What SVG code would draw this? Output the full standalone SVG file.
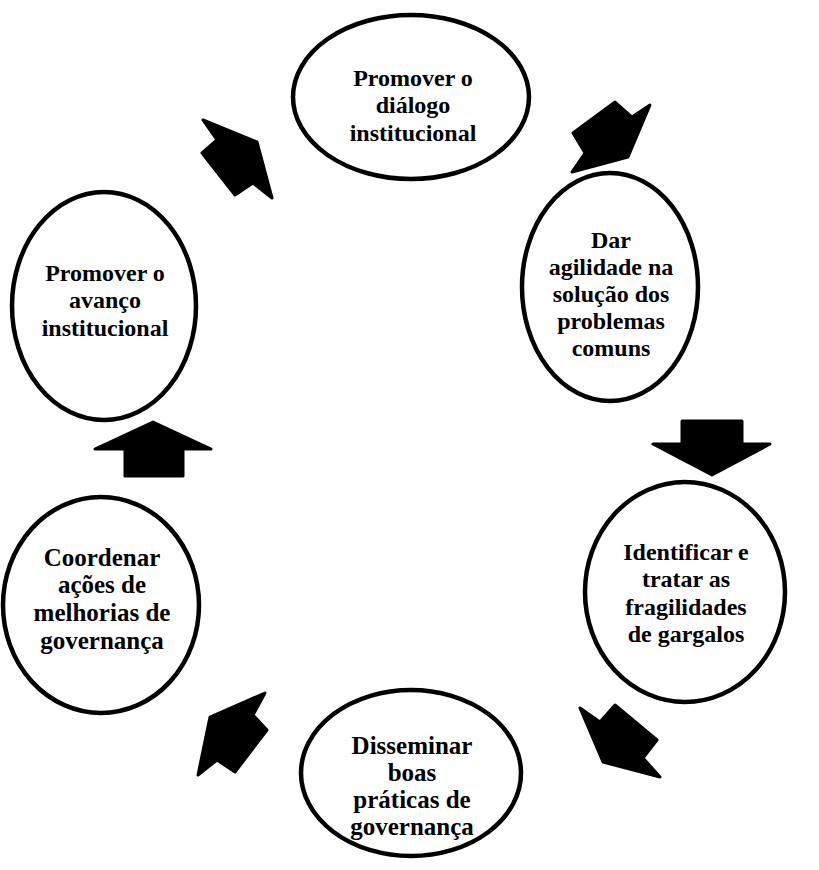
<svg xmlns="http://www.w3.org/2000/svg" width="819" height="870" viewBox="0 0 819 870">
<style>
.node ellipse{fill:#fff;stroke:#000;stroke-width:4.5}
.node text{font-family:"Liberation Serif","Times New Roman",serif;font-weight:bold;font-size:24px;fill:#000;text-anchor:middle}
.node.big text{font-size:25px}
.arr{fill:#000;stroke:#000;stroke-width:3;stroke-linejoin:round}
</style>
<rect width="819" height="870" fill="#fff"/>
<g id="connectors">
<polygon class="arr" points="257,142 272,198 253,183 235,195 202,153 217,140 203,120"/>
<polygon class="arr" points="615,102 632,117 650,105 628,157 572,172 585,153 573,133"/>
<polygon class="arr" points="682,421 742,421 742,444 770,444 712,475 653,444 682,444"/>
<polygon class="arr" points="580,708 600,722 615,705 657,740 643,758 660,777 603,762"/>
<polygon class="arr" points="265,693 253,715 267,730 235,772 217,760 198,775 210,717"/>
<polygon class="arr" points="153,422 211,449 183,449 183,476 125,476 125,449 95,449"/>
</g>
<g id="n1" class="node">
<ellipse cx="411" cy="97" rx="118" ry="82"/>
<text x="413" y="86">Promover o</text>
<text x="413" y="113">diálogo</text>
<text x="413" y="141">institucional</text>
</g>
<g id="n2" class="node">
<ellipse cx="610" cy="287" rx="88" ry="114"/>
<text x="611" y="248">Dar</text>
<text x="611" y="275">agilidade na</text>
<text x="611" y="302">solução dos</text>
<text x="611" y="329">problemas</text>
<text x="611" y="356">comuns</text>
</g>
<g id="n3" class="node">
<ellipse cx="104" cy="306" rx="92" ry="114"/>
<text x="105" y="281">Promover o</text>
<text x="105" y="308">avanço</text>
<text x="105" y="336">institucional</text>
</g>
<g id="n4" class="node">
<ellipse cx="685" cy="592" rx="100" ry="110"/>
<text x="686" y="560">Identificar e</text>
<text x="686" y="587">tratar as</text>
<text x="686" y="615">fragilidades</text>
<text x="686" y="642">de gargalos</text>
</g>
<g id="n5" class="node big">
<ellipse cx="411" cy="773" rx="110" ry="83"/>
<text x="412" y="754">Disseminar</text>
<text x="412" y="781">boas</text>
<text x="412" y="808">práticas de</text>
<text x="412" y="835">governança</text>
</g>
<g id="n6" class="node big">
<ellipse cx="101" cy="605" rx="98" ry="108"/>
<text x="102" y="566">Coordenar</text>
<text x="102" y="593">ações de</text>
<text x="102" y="621">melhorias de</text>
<text x="102" y="649">governança</text>
</g>
</svg>
